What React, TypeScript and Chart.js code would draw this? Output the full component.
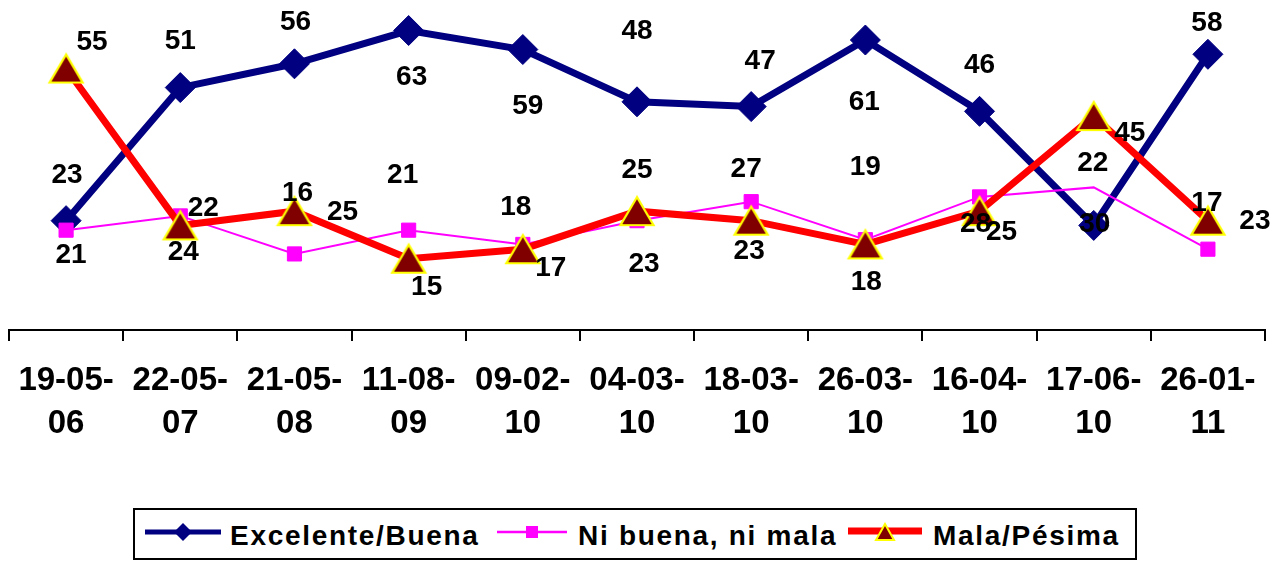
import { useEffect, useRef } from "react";
import { Chart, registerables } from "chart.js";

Chart.register(...registerables);

const FONT = '"Liberation Sans", Arial, sans-serif';

// ---- Data ----
const categories: string[][] = [
  ["19-05-", "06"],
  ["22-05-", "07"],
  ["21-05-", "08"],
  ["11-08-", "09"],
  ["09-02-", "10"],
  ["04-03-", "10"],
  ["18-03-", "10"],
  ["26-03-", "10"],
  ["16-04-", "10"],
  ["17-06-", "10"],
  ["26-01-", "11"],
];

const seriesNames = ["Excelente/Buena", "Ni buena, ni mala", "Mala/Pésima"];

// plotted values
const excelenteBuena = [23, 51, 56, 63, 59, 48, 47, 61, 46, 22, 58];
const niBuenaNiMala = [21, 24, 16, 21, 18, 23, 27, 19, 28, 30, 17];
const malaPesima = [55, 22, 25, 15, 17, 25, 23, 18, 25, 45, 23];

// data label texts as printed in the picture
const excelenteLabels = ["23", "51", "56", "63", "59", "48", "47", "61", "46", "30", "58"];
const niBuenaLabels = ["21", "24", "16", "21", "18", "23", "27", "19", "28", "22", "17"];
const malaLabels = ["55", "22", "25", "15", "17", "25", "23", "18", "25", "45", "23"];

// label placement relative to each point (layout only)
const excelenteOffsets: [number, number][] = [
  [1, -45], [0, -46], [1, -42], [3, 47], [5, 57], [0, -71], [9, -45], [-1, 62], [0, -46], [1, -1], [-1, -31],
];
const niBuenaOffsets: [number, number][] = [
  [5, 25], [3, 36], [3, -61], [-6, -55], [-7, -37], [7, 44], [-5, -32], [0, -72], [-4, 27], [-1, -24], [-1, -46],
];
const malaOffsets: [number, number][] = [
  [26, -26], [23, -17], [48, 1], [18, 29], [28, 19], [0, -41], [-2, 31], [1, 38], [22, 21], [36, 17], [47, 1],
];

function makeTriangle(): HTMLCanvasElement {
  const c = document.createElement("canvas");
  c.width = 38;
  c.height = 34;
  const ctx = c.getContext("2d")!;
  ctx.beginPath();
  ctx.moveTo(19, 3);
  ctx.lineTo(2.5, 31);
  ctx.lineTo(35.5, 31);
  ctx.closePath();
  ctx.fillStyle = "#800000";
  ctx.fill();
  ctx.lineWidth = 2.2;
  ctx.strokeStyle = "#FFFF00";
  ctx.lineJoin = "miter";
  ctx.stroke();
  return c;
}

export default function App() {
  const ref = useRef<HTMLCanvasElement>(null);

  useEffect(() => {
    if (!ref.current) return;
    const tri = makeTriangle();
    const labelSets = [
      { texts: excelenteLabels, offsets: excelenteOffsets },
      { texts: niBuenaLabels, offsets: niBuenaOffsets },
      { texts: malaLabels, offsets: malaOffsets },
    ];
    const labelPlugin = {
      id: "pointLabels",
      afterDatasetsDraw(chart: any) {
        const ctx = chart.ctx;
        ctx.save();
        ctx.font = `bold 28px ${FONT}`;
        ctx.fillStyle = "#000";
        ctx.textAlign = "center";
        ctx.textBaseline = "middle";
        labelSets.forEach((set, di) => {
          const meta = chart.getDatasetMeta(di);
          meta.data.forEach((pt: any, i: number) => {
            const [dx, dy] = set.offsets[i];
            ctx.fillText(set.texts[i], pt.x + dx, pt.y + dy);
          });
        });
        ctx.restore();
      },
    };

    const chart = new Chart(ref.current, {
      type: "line",
      data: {
        labels: categories,
        datasets: [
          {
            label: seriesNames[0],
            data: excelenteBuena,
            borderColor: "#000080",
            backgroundColor: "#000080",
            borderWidth: 7,
            pointStyle: "rectRot",
            pointRadius: 15,
            pointBorderWidth: 1,
            pointBorderColor: "#000080",
            pointBackgroundColor: "#000080",
            tension: 0,
            order: 2,
            clip: false,
          },
          {
            label: seriesNames[1],
            data: niBuenaNiMala,
            borderColor: "#FF00FF",
            backgroundColor: "#FF00FF",
            borderWidth: 2,
            pointStyle: "rect",
            pointRadius: [10, 10, 10, 10, 10, 10, 10, 10, 10, 0, 10],
            pointBorderWidth: 1,
            pointBorderColor: "#FF00FF",
            pointBackgroundColor: "#FF00FF",
            tension: 0,
            order: 1,
            clip: false,
          },
          {
            label: seriesNames[2],
            data: malaPesima,
            borderColor: "#FF0000",
            backgroundColor: "#800000",
            borderWidth: 7,
            pointStyle: tri,
            pointRadius: 17,
            tension: 0,
            order: 0,
            clip: false,
          },
        ],
      },
      options: {
        animation: false,
        responsive: false,
        maintainAspectRatio: false,
        events: [],
        layout: { autoPadding: false, padding: { left: 9, right: 9, top: 2, bottom: 0 } },
        plugins: {
          legend: { display: false },
          tooltip: { enabled: false },
          title: { display: false },
        },
        scales: {
          x: {
            offset: true,
            grid: {
              offset: true,
              drawOnChartArea: false,
              drawTicks: true,
              tickLength: 11,
              color: "#000",
              lineWidth: 2,
            },
            border: { color: "#000", width: 2 },
            ticks: {
              color: "#000",
              font: { family: FONT, size: 33, weight: "bold", lineHeight: 1.32 },
              padding: 18,
              maxRotation: 0,
              autoSkip: false,
            },
            afterFit: (s: any) => {
              s.height = 231;
              s.paddingLeft = 0;
              s.paddingRight = 0;
            },
          },
          y: { display: false, min: 0, max: 69 },
        },
      },
      plugins: [labelPlugin],
    } as any);
    return () => chart.destroy();
  }, []);

  return (
    <div style={{ position: "absolute", left: 0, top: 0, width: 1274, height: 561, background: "#fff" }}>
      <canvas ref={ref} width={1274} height={561} style={{ position: "absolute", left: 0, top: 0, width: 1274, height: 561 }} />
      <svg width={1274} height={561} style={{ position: "absolute", left: 0, top: 0 }}>
        <rect x={134} y={509} width={1002} height={50} fill="#fff" stroke="#000" strokeWidth={2} />
        {/* Excelente/Buena */}
        <line x1={145} y1={532} x2={221} y2={532} stroke="#000080" strokeWidth={5} />
        <polygon points="183,523 192,532 183,541 174,532" fill="#000080" />
        <text x={230} y={545} fontFamily={FONT} fontWeight="bold" fontSize={28} letterSpacing={1.7} fill="#000">
          {seriesNames[0]}
        </text>
        {/* Ni buena, ni mala */}
        <line x1={497} y1={532} x2={567} y2={532} stroke="#FF00FF" strokeWidth={2.5} />
        <rect x={526} y={526} width={12} height={12} fill="#FF00FF" />
        <text x={578} y={545} fontFamily={FONT} fontWeight="bold" fontSize={28} letterSpacing={1.7} fill="#000">
          {seriesNames[1]}
        </text>
        {/* Mala/Pésima */}
        <line x1={848} y1={531} x2={922} y2={531} stroke="#FF0000" strokeWidth={7} />
        <polygon points="885,524 876,540 894,540" fill="#800000" stroke="#FFFF00" strokeWidth={2} />
        <text x={933} y={545} fontFamily={FONT} fontWeight="bold" fontSize={28} letterSpacing={1.7} fill="#000">
          {seriesNames[2]}
        </text>
      </svg>
    </div>
  );
}
